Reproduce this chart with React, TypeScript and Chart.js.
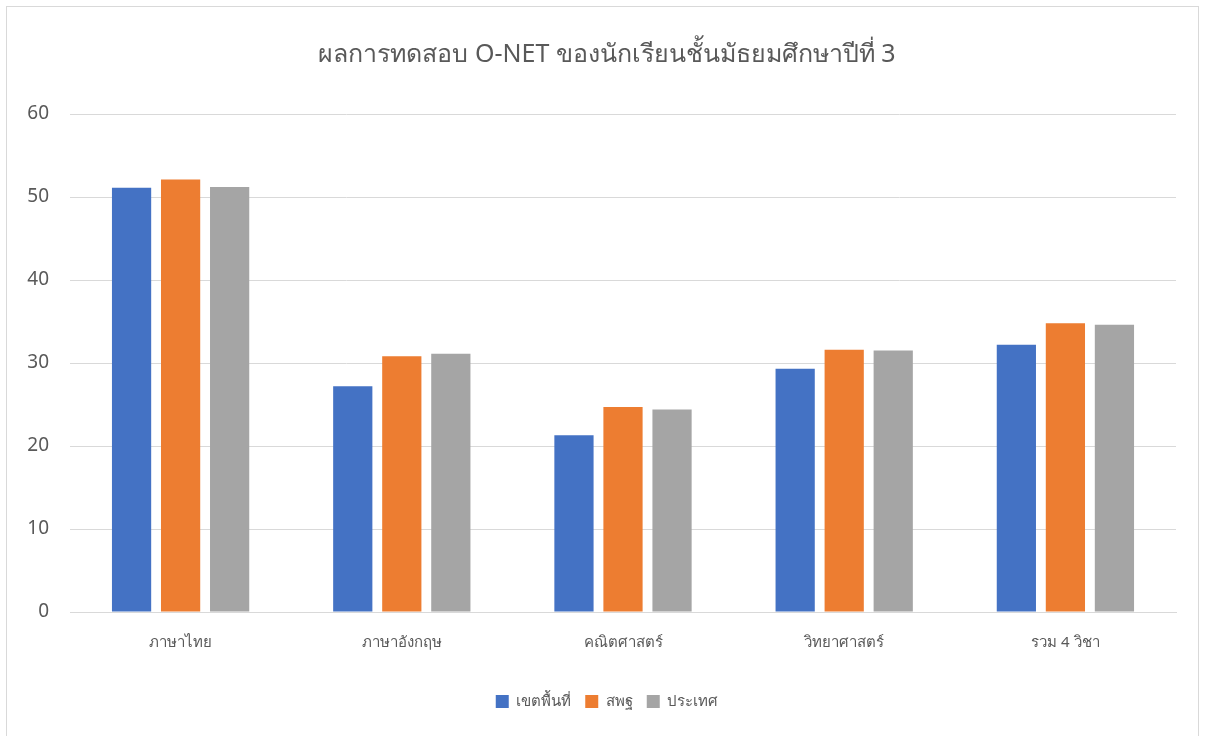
import React, { useEffect, useRef } from "react";
import { Chart, registerables } from "chart.js";

Chart.register(...registerables);

const categories = ["ภาษาไทย", "ภาษาอังกฤษ", "คณิตศาสตร์", "วิทยาศาสตร์", "รวม 4 วิชา"];
const seriesNames = ["เขตพื้นที่", "สพฐ", "ประเทศ"];
const area = [51.1, 27.2, 21.3, 29.3, 32.2];
const obec = [52.1, 30.8, 24.7, 31.6, 34.8];
const nation = [51.2, 31.1, 24.4, 31.5, 34.6];
const colors = ["#4472C4", "#ED7D31", "#A5A5A5"];
const titleText = "ผลการทดสอบ O-NET ของนักเรียนชั้นมัธยมศึกษาปีที่ 3";

export default function App() {
  const ref = useRef<HTMLCanvasElement>(null);
  useEffect(() => {
    if (!ref.current) return;
    const font = "'Noto Sans', 'Liberation Sans', sans-serif";
    const chart = new Chart(ref.current, {
      type: "bar",
      data: {
        labels: categories,
        datasets: [area, obec, nation].map((d, i) => ({
          label: seriesNames[i],
          data: d,
          backgroundColor: colors[i],
          borderWidth: 0,
          categoryPercentage: 0.665,
          barPercentage: 0.8,
          yAxisID: "y",
        })),
      },
      options: {
        animation: false,
        responsive: false,
        maintainAspectRatio: false,
        layout: { padding: { left: 20, right: 11, top: 25, bottom: 18 } },
        plugins: {
          title: {
            display: true,
            text: titleText,
            color: "#595959",
            font: { family: font, size: 25, weight: "normal" },
            padding: { top: 8, bottom: 44 },
          },
          legend: {
            position: "bottom",
            labels: {
              color: "#595959",
              font: { family: font, size: 15 },
              boxWidth: 13,
              boxHeight: 13,
              padding: 14,
            },
          },
          tooltip: { enabled: false },
        },
        scales: {
          x: {
            grid: { display: false },
            border: { display: true, color: "#d9d9d9" },
            ticks: { color: "#595959", font: { family: font, size: 15 }, padding: 14 },
            afterFit: (scale: any) => {
              scale.height += 14;
            },
          },
          y: {
            min: 0,
            max: 60,
            ticks: { stepSize: 10, color: "#595959", font: { family: font, size: 19 }, padding: 21 },
            grid: { color: "#d9d9d9", drawTicks: false },
            border: { display: false },
            afterFit: (scale: any) => {
              scale.width = 43;
            },
          },
          y2: {
            position: "right",
            min: 0,
            max: 60,
            ticks: { display: false },
            grid: { display: false, drawTicks: false },
            border: { display: false },
            afterFit: (scale: any) => {
              scale.width = 11;
            },
          },
        },
      },
    });
    return () => chart.destroy();
  }, []);
  return (
    <div
      style={{
        position: "absolute",
        left: 6,
        top: 6,
        width: 1191,
        height: 740,
        border: "1px solid #d9d9d9",
        background: "#fff",
      }}
    >
      <canvas ref={ref} width={1191} height={730} style={{ width: 1191, height: 730 }} />
    </div>
  );
}
